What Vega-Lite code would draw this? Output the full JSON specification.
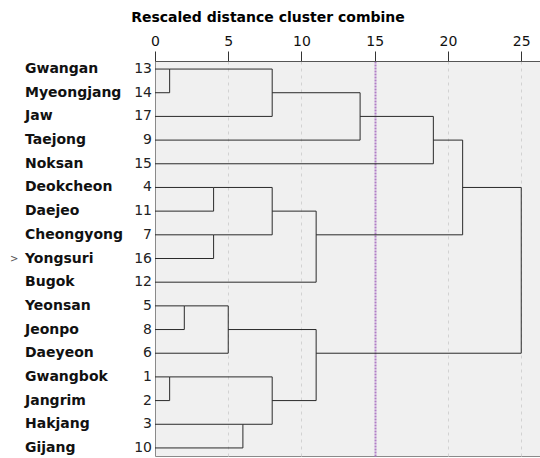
{
  "$schema": "https://vega.github.io/schema/vega-lite/v6.json",
  "width": 385,
  "height": 395,
  "autosize": {"type": "none"},
  "padding": {"left": 155, "top": 61, "right": 0, "bottom": 2},
  "background": "white",
  "config": {
    "font": "DejaVu Sans",
    "view": {"fill": "#f0f0f0", "stroke": "#8a8a8a", "strokeWidth": 1}
  },
  "title": {
    "text": "Rescaled distance cluster combine",
    "anchor": "middle",
    "frame": "bounds",
    "font": "DejaVu Sans",
    "fontSize": 14,
    "fontWeight": "bold",
    "color": "#000",
    "dx": -7,
    "offset": 9
  },
  "datasets": {
    "tree": [
      {"x": 0, "x2": 1, "y": 0, "y2": 0},
      {"x": 0, "x2": 1, "y": 1, "y2": 1},
      {"x": 1, "x2": 1, "y": 0, "y2": 1},
      {"x": 1, "x2": 8, "y": 0, "y2": 0},
      {"x": 0, "x2": 8, "y": 2, "y2": 2},
      {"x": 8, "x2": 8, "y": 0, "y2": 2},
      {"x": 8, "x2": 14, "y": 1, "y2": 1},
      {"x": 0, "x2": 14, "y": 3, "y2": 3},
      {"x": 14, "x2": 14, "y": 1, "y2": 3},
      {"x": 14, "x2": 19, "y": 2, "y2": 2},
      {"x": 0, "x2": 19, "y": 4, "y2": 4},
      {"x": 19, "x2": 19, "y": 2, "y2": 4},
      {"x": 0, "x2": 4, "y": 5, "y2": 5},
      {"x": 0, "x2": 4, "y": 6, "y2": 6},
      {"x": 4, "x2": 4, "y": 5, "y2": 6},
      {"x": 0, "x2": 4, "y": 7, "y2": 7},
      {"x": 0, "x2": 4, "y": 8, "y2": 8},
      {"x": 4, "x2": 4, "y": 7, "y2": 8},
      {"x": 4, "x2": 8, "y": 5, "y2": 5},
      {"x": 4, "x2": 8, "y": 7, "y2": 7},
      {"x": 8, "x2": 8, "y": 5, "y2": 7},
      {"x": 8, "x2": 11, "y": 6, "y2": 6},
      {"x": 0, "x2": 11, "y": 9, "y2": 9},
      {"x": 11, "x2": 11, "y": 6, "y2": 9},
      {"x": 19, "x2": 21, "y": 3, "y2": 3},
      {"x": 11, "x2": 21, "y": 7, "y2": 7},
      {"x": 21, "x2": 21, "y": 3, "y2": 7},
      {"x": 0, "x2": 2, "y": 10, "y2": 10},
      {"x": 0, "x2": 2, "y": 11, "y2": 11},
      {"x": 2, "x2": 2, "y": 10, "y2": 11},
      {"x": 2, "x2": 5, "y": 10, "y2": 10},
      {"x": 0, "x2": 5, "y": 12, "y2": 12},
      {"x": 5, "x2": 5, "y": 10, "y2": 12},
      {"x": 0, "x2": 1, "y": 13, "y2": 13},
      {"x": 0, "x2": 1, "y": 14, "y2": 14},
      {"x": 1, "x2": 1, "y": 13, "y2": 14},
      {"x": 0, "x2": 6, "y": 15, "y2": 15},
      {"x": 0, "x2": 6, "y": 16, "y2": 16},
      {"x": 6, "x2": 6, "y": 15, "y2": 16},
      {"x": 1, "x2": 8, "y": 13, "y2": 13},
      {"x": 6, "x2": 8, "y": 15, "y2": 15},
      {"x": 8, "x2": 8, "y": 13, "y2": 15},
      {"x": 5, "x2": 11, "y": 11, "y2": 11},
      {"x": 8, "x2": 11, "y": 14, "y2": 14},
      {"x": 11, "x2": 11, "y": 11, "y2": 14},
      {"x": 21, "x2": 25, "y": 5, "y2": 5},
      {"x": 11, "x2": 25, "y": 12, "y2": 12},
      {"x": 25, "x2": 25, "y": 5, "y2": 12}
    ],
    "cases": [
      {"row": 0, "name": "Gwangan", "case": 13, "flag": ""},
      {"row": 1, "name": "Myeongjang", "case": 14, "flag": ""},
      {"row": 2, "name": "Jaw", "case": 17, "flag": ""},
      {"row": 3, "name": "Taejong", "case": 9, "flag": ""},
      {"row": 4, "name": "Noksan", "case": 15, "flag": ""},
      {"row": 5, "name": "Deokcheon", "case": 4, "flag": ""},
      {"row": 6, "name": "Daejeo", "case": 11, "flag": ""},
      {"row": 7, "name": "Cheongyong", "case": 7, "flag": ""},
      {"row": 8, "name": "Yongsuri", "case": 16, "flag": ">"},
      {"row": 9, "name": "Bugok", "case": 12, "flag": ""},
      {"row": 10, "name": "Yeonsan", "case": 5, "flag": ""},
      {"row": 11, "name": "Jeonpo", "case": 8, "flag": ""},
      {"row": 12, "name": "Daeyeon", "case": 6, "flag": ""},
      {"row": 13, "name": "Gwangbok", "case": 1, "flag": ""},
      {"row": 14, "name": "Jangrim", "case": 2, "flag": ""},
      {"row": 15, "name": "Hakjang", "case": 3, "flag": ""},
      {"row": 16, "name": "Gijang", "case": 10, "flag": ""}
    ]
  },
  "layer": [
    {
      "data": {"name": "tree"},
      "mark": {"type": "rule", "color": "#2a2a2a", "strokeWidth": 1},
      "encoding": {
        "x": {
          "field": "x",
          "type": "quantitative",
          "scale": {"domain": [0, 26.28], "nice": false, "zero": false},
          "axis": {
            "orient": "top",
            "title": null,
            "values": [0, 5, 10, 15, 20, 25],
            "tickSize": 10,
            "tickColor": "#333",
            "domainColor": "#555",
            "labelFont": "DejaVu Sans",
            "labelFontSize": 14,
            "labelColor": "#111",
            "labelPadding": 3,
            "labelFlush": false,
            "grid": true,
            "gridColor": {"condition": {"test": "datum.value == 15", "value": "#b07cc6"}, "value": "#d2d2d2"},
            "gridDash": {"condition": {"test": "datum.value == 15", "value": [2, 1]}, "value": [3, 4]},
            "gridWidth": {"condition": {"test": "datum.value == 15", "value": 2}, "value": 1},
            "gridOpacity": {"condition": {"test": "datum.value == 0", "value": 0}, "value": 1}
          }
        },
        "x2": {"field": "x2"},
        "y": {
          "field": "y",
          "type": "quantitative",
          "scale": {"domain": [-0.34, 16.34], "reverse": true, "nice": false, "zero": false},
          "axis": null
        },
        "y2": {"field": "y2"}
      }
    },
    {
      "data": {"name": "cases"},
      "mark": {"type": "text", "align": "right", "baseline": "middle", "dx": -3, "fontSize": 14, "color": "#222"},
      "encoding": {
        "x": {"datum": 0},
        "y": {"field": "row", "type": "quantitative"},
        "text": {"field": "case"}
      }
    },
    {
      "data": {"name": "cases"},
      "mark": {"type": "text", "align": "left", "baseline": "middle", "dx": -130, "fontSize": 14, "fontWeight": "bold", "color": "#111"},
      "encoding": {
        "x": {"datum": 0},
        "y": {"field": "row", "type": "quantitative"},
        "text": {"field": "name"}
      }
    },
    {
      "data": {"name": "cases"},
      "transform": [{"filter": "datum.flag != ''"}],
      "mark": {"type": "text", "align": "left", "baseline": "middle", "dx": -145, "fontSize": 10, "color": "#555"},
      "encoding": {
        "x": {"datum": 0},
        "y": {"field": "row", "type": "quantitative"},
        "text": {"field": "flag"}
      }
    }
  ]
}
